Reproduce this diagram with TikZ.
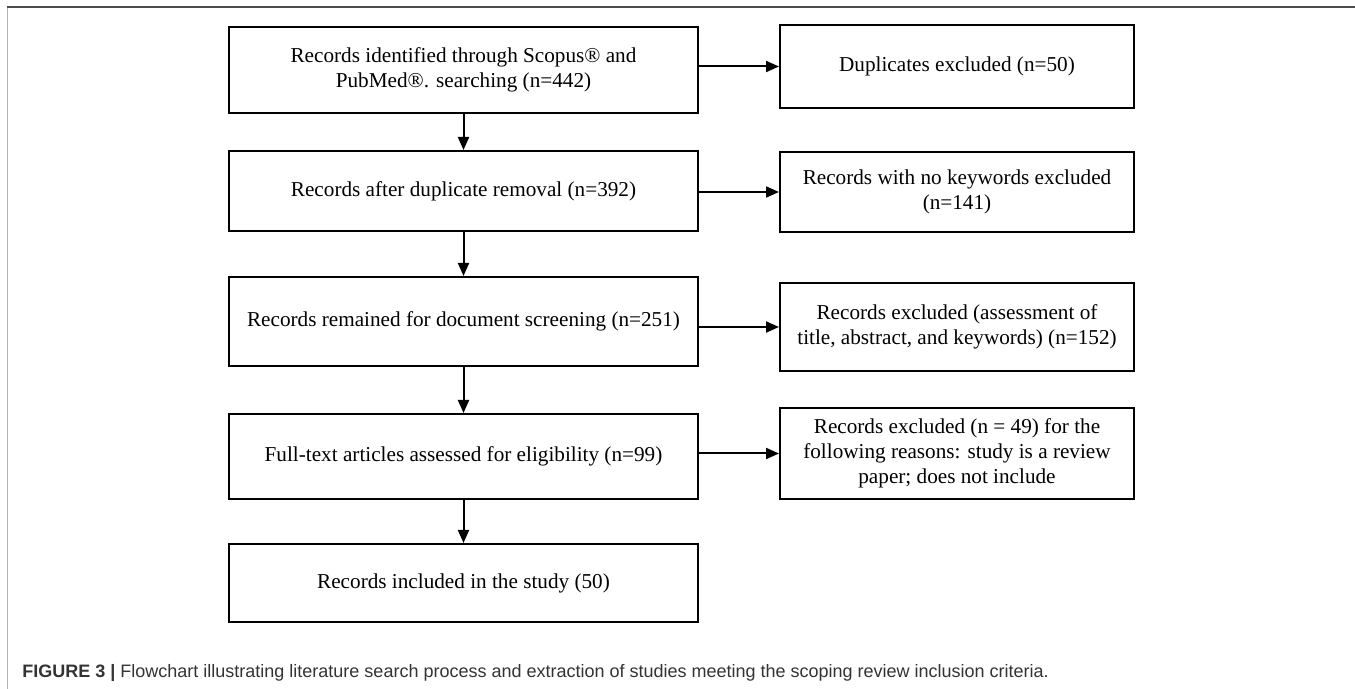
\documentclass[tikz,border=0pt]{standalone}
\usepackage{fontspec}
\setmainfont{Liberation Serif}
\setsansfont{Liberation Sans}
\usetikzlibrary{arrows.meta}
\tikzset{>={Triangle[length=6.5pt,width=5.5pt]}}
\colorlet{framegray}{gray!60}
\colorlet{captiongray}{black!80}
\tikzset{
  stagebox/.style = {draw, line width=1pt, minimum width=234.5pt, inner sep=0pt, align=center,
    font=\fontsize{10.6}{12.5}\selectfont},
  exclbox/.style = {stagebox, minimum width=177pt},
  flow/.style = {->, line width=1pt}
}

\begin{document}
\begin{tikzpicture}[x=0.5pt,y=-0.5pt]
  \useasboundingbox (0,0) rectangle (1355,689);
  % frame
  \draw[framegray, line width=0.5pt] (7,689) -- (7,7);
  \draw[black!70, line width=0.6pt] (7,7) -- (1355,7);
  % main stages
  \node (b1) at (463.5,70) [stagebox, minimum height=43pt] {Records identified through Scopus® and\\PubMed®. searching (n=442)};
  \node (b2) at (463.5,191) [stagebox, minimum height=40pt] {Records after duplicate removal (n=392)};
  \node (b3) at (463.5,321.5) [stagebox, minimum height=44.5pt] {Records remained for document screening (n=251)};
  \node (b4) at (463.5,456.5) [stagebox, minimum height=42.5pt] {Full-text articles assessed for eligibility (n=99)};
  \node (b5) at (463.5,583) [stagebox, minimum height=39pt] {Records included in the study (50)};
  % exclusions
  \node (r1) at (957,66.5) [exclbox, minimum height=41.5pt] {Duplicates excluded (n=50)};
  \node (r2) at (957,192) [exclbox, minimum height=40pt] {Records with no keywords excluded\\(n=141)};
  \node (r3) at (957,327) [exclbox, minimum height=44pt] {Records excluded (assessment of\\title, abstract, and keywords) (n=152)};
  \node (r4) at (957,453.5) [exclbox, minimum height=45.5pt] {Records excluded (n = 49) for the\\following reasons: study is a review\\paper; does not include};
  % arrows
  \foreach \a/\b in {b1/b2,b2/b3,b3/b4,b4/b5}
    \draw[flow] (\a) -- (\b);
  \foreach \a/\b in {b1/r1,b2/r2,b3/r3,b4/r4}
    \draw[flow] (\b -| \a.east) -- (\b.west);
  % caption
  \node (cap) at (22,673) [anchor=west, inner sep=0pt, text=captiongray, font=\sffamily\fontsize{9}{11}\selectfont]
    {\textbf{FIGURE 3 |} Flowchart illustrating literature search process and extraction of studies meeting the scoping review inclusion criteria.};
\end{tikzpicture}
\end{document}
